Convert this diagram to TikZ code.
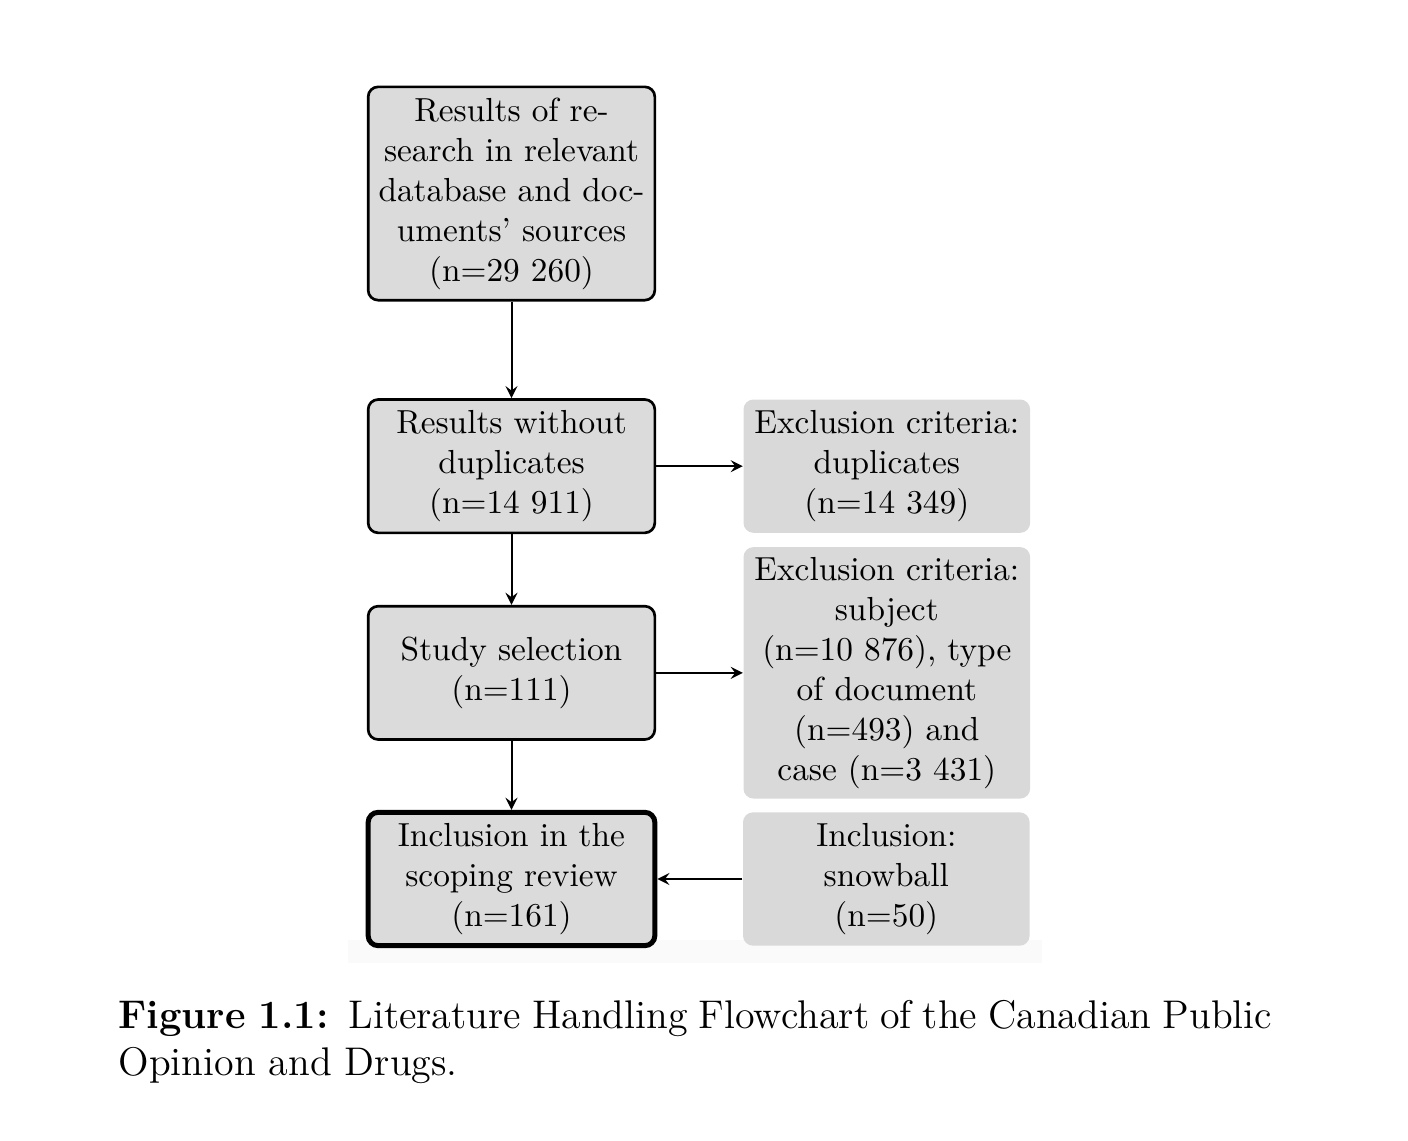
\documentclass[tikz,border=0pt]{standalone}
\usepackage{amsmath}
\usetikzlibrary{positioning}

\begin{document}
\begin{tikzpicture}[x=0.3pt, y=-0.3pt,
    stepbox/.style={draw, thick, rounded corners=3pt, fill=black!14,
      text width=80pt, inner sep=3pt, align=center, minimum height=40pt},
    sidebox/.style={fill=black!15, rounded corners=3pt,
      text width=80pt, inner sep=3pt, align=center, minimum height=40pt},
    flow/.style={->, >=stealth, semithick}]
    \useasboundingbox (0,0) rectangle (1408,1140);
    \fill[black!2] (348,940) rectangle (1042,963);

    \node[stepbox, minimum height=64pt] (search-res) at (511.5,193.5)
      {Results of re-\\search in relevant\\database and doc-\\uments' sources\\(n=29~260)};
    \node[stepbox, below = 29pt of search-res] (no-dup)
      {Results without\\duplicates\\(n=14~911)};
    \node[stepbox, below = 21.2pt of no-dup] (selection)
      {Study selection\\(n=111)};
    \node[stepbox, line width=1.5pt, below = 20.7pt of selection] (inclusion)
      {Inclusion in the\\scoping review\\(n=161)};

    \node[sidebox, right = 26pt of no-dup] (excl-dup)
      {Exclusion criteria:\\duplicates\\(n=14~349)};
    \node[sidebox, right = 26pt of selection] (excl-subj)
      {Exclusion criteria:\\subject\\(n=10~876), type\\of document\\(n=493) and\\case (n=3~431)};
    \node[sidebox, right = 25.5pt of inclusion] (incl-snow)
      {Inclusion:\\snowball\\(n=50)};

    \draw[flow] (search-res) -- (no-dup);
    \draw[flow] (no-dup) -- (selection);
    \draw[flow] (selection) -- (inclusion);
    \draw[flow] (no-dup) -- (excl-dup);
    \draw[flow] (selection) -- (excl-subj);
    \draw[flow] (incl-snow) -- (inclusion);

    \node[anchor=north west, inner sep=0, text width=346pt, align=justify,
      font=\large] (caption-t) at (118,1000)
      {{\bfseries Figure 1.1:}\enspace Literature Handling Flowchart of the
      Canadian Public\linebreak Opinion and Drugs.};
  \end{tikzpicture}
\end{document}
